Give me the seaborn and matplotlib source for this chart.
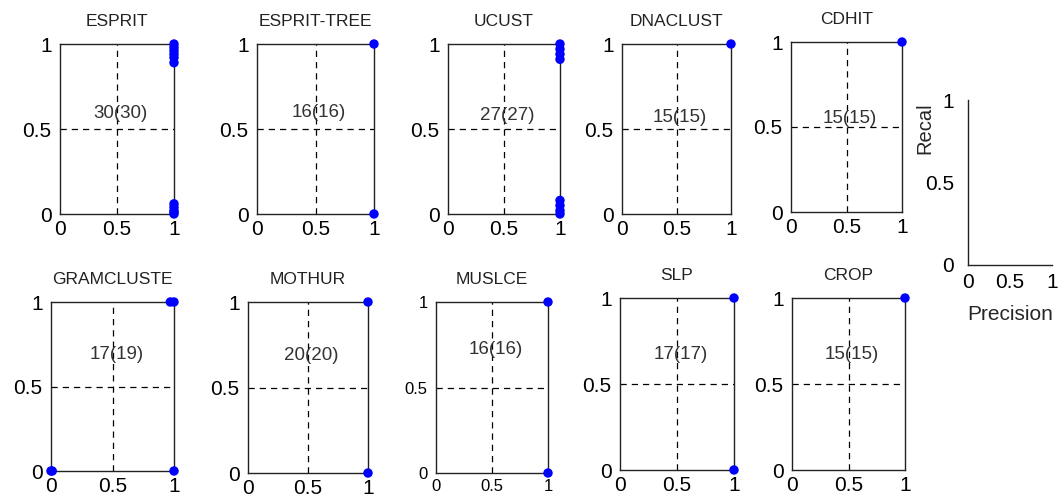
import matplotlib
matplotlib.use("Agg")
import matplotlib.pyplot as plt
import seaborn as sns
import pandas as pd

sns.set_theme(style="white")
plt.rcParams["font.family"] = ["Liberation Sans", "DejaVu Sans"]

# Precision / recall of each cluster per method
methods = ["ESPRIT", "ESPRIT-TREE", "UCUST", "DNACLUST", "CDHIT",
           "GRAMCLUSTE", "MOTHUR", "MUSLCE", "SLP", "CROP"]

esprit_prec = [1, 1, 1, 1, 1, 1, 1, 1, 1, 1, 1]
esprit_rec = [1.0, 0.98, 0.96, 0.94, 0.92, 0.89, 0.06, 0.04, 0.02, 0.01, 0.0]

esprit_tree_prec = [1, 1]
esprit_tree_rec = [1.0, 0.0]

ucust_prec = [1, 1, 1, 1, 1, 1, 1, 1]
ucust_rec = [1.0, 0.97, 0.94, 0.91, 0.08, 0.05, 0.02, 0.0]

dnaclust_prec = [1]
dnaclust_rec = [1.0]

cdhit_prec = [1]
cdhit_rec = [1.0]

gramcluste_prec = [0.97, 1.0, 0.0, 0.01, 1.0]
gramcluste_rec = [1.0, 1.0, 0.0, 0.0, 0.0]

mothur_prec = [1, 1]
mothur_rec = [1.0, 0.0]

muslce_prec = [1, 1]
muslce_rec = [1.0, 0.0]

slp_prec = [1, 1]
slp_rec = [1.0, 0.0]

crop_prec = [1]
crop_rec = [1.0]

# Number of clusters found (true number of clusters)
found = [30, 16, 27, 15, 15, 17, 20, 16, 17, 15]
truth = [30, 16, 27, 15, 15, 19, 20, 16, 17, 15]

precisions = [esprit_prec, esprit_tree_prec, ucust_prec, dnaclust_prec, cdhit_prec,
              gramcluste_prec, mothur_prec, muslce_prec, slp_prec, crop_prec]
recalls = [esprit_rec, esprit_tree_rec, ucust_rec, dnaclust_rec, cdhit_rec,
           gramcluste_rec, mothur_rec, muslce_rec, slp_rec, crop_rec]

tick_vals = [0, 0.5, 1]
tick_text = ["0", "0.5", "1"]

W, H = 1064, 498
fig = plt.figure(figsize=(W / 100, H / 100), dpi=100)

# panel boxes in pixels: left, top, right, bottom
boxes = [
    (60, 44, 174, 214), (257, 44, 374, 214), (448, 44, 560, 214),
    (622, 44, 731, 214), (791, 42, 902, 212),
    (51, 302, 174, 471), (248, 302, 368, 473), (436, 302, 548, 473),
    (620, 298, 734, 470), (792, 298, 905, 470),
]
# vertical position of the count label in each panel
label_y = [0.59, 0.60, 0.58, 0.565, 0.55, 0.69, 0.69, 0.72, 0.67, 0.67]


def px_axes(l, t, r, b):
    return fig.add_axes([l / W, 1 - b / H, (r - l) / W, (b - t) / H])


for i, name in enumerate(methods):
    ax = px_axes(*boxes[i])
    df = pd.DataFrame({"Precision": precisions[i], "Recall": recalls[i]})
    ax.axhline(0.5, color="black", lw=0.9, ls=(0, (5, 4)), zorder=1)
    ax.axvline(0.5, color="black", lw=0.9, ls=(0, (5, 4)), zorder=1)
    sns.scatterplot(data=df, x="Precision", y="Recall", ax=ax, color="#0000ff",
                    s=46, edgecolor="none", clip_on=False, zorder=5, legend=False)
    ax.set_xlim(0, 1)
    ax.set_ylim(0, 1)
    ax.set_xlabel("")
    ax.set_ylabel("")
    ax.set_xticks(tick_vals)
    ax.set_yticks(tick_vals)
    ax.set_xticklabels(tick_text)
    ax.set_yticklabels(tick_text)
    fs = 12 if name == "MUSLCE" else 15
    ax.tick_params(axis="both", direction="in", length=3, width=0.8,
                   labelsize=fs, colors="black", pad=4)
    ax.tick_params(axis="y", pad=6)
    for sp in ax.spines.values():
        sp.set_visible(True)
        sp.set_color("#222222")
        sp.set_linewidth(1.0)
    ax.set_title(name, fontsize=12.5, color="#222222", pad=13)
    ax.text(0.53, label_y[i], f"{found[i]}({truth[i]})", ha="center", va="center",
            fontsize=13.5, color="#333333", transform=ax.transAxes, zorder=6)

# key panel with axis names
key = px_axes(968, 100, 1052, 265)
key.set_xlim(0, 1)
key.set_ylim(0, 1)
key.set_xticks(tick_vals)
key.set_yticks(tick_vals)
key.set_xticklabels(tick_text)
key.set_yticklabels(tick_text)
key.tick_params(axis="both", direction="in", length=3, width=0.8,
                labelsize=15, colors="black", pad=6)
key.tick_params(axis="y", pad=10)
for side in ["top", "right"]:
    key.spines[side].set_visible(False)
for side in ["left", "bottom"]:
    key.spines[side].set_color("#222222")
    key.spines[side].set_linewidth(1.0)
key.set_xlabel("Precision", fontsize=15, labelpad=9)
key.set_ylabel("Recal", fontsize=14.5, labelpad=2)
key.yaxis.set_label_coords(-0.40, 0.83)

fig.savefig("out.png", dpi=100, facecolor="white")
